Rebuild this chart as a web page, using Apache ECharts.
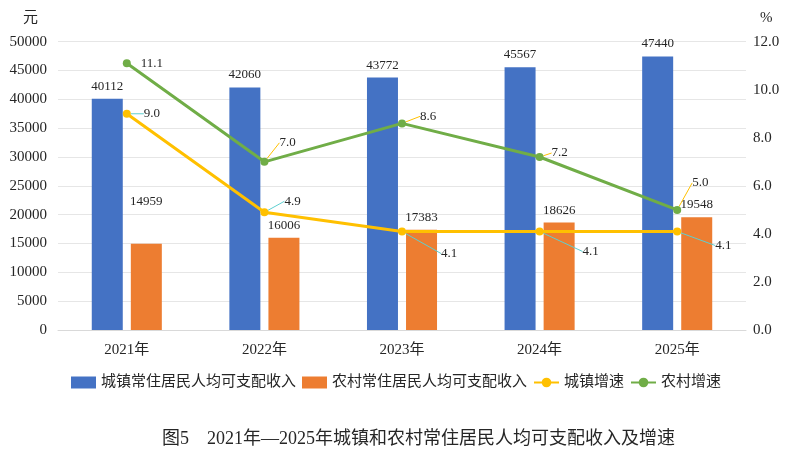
<!DOCTYPE html>
<html>
<head>
<meta charset="utf-8">
<script src="https://cdn.jsdelivr.net/npm/echarts@6/dist/echarts.min.js"></script>
<style>html,body{margin:0;padding:0;background:#fff}#c{width:792px;height:454px}</style>
</head>
<body>
<div id="c"></div>
<script>
var categories = ['2021年', '2022年', '2023年', '2024年', '2025年'];
var urbanIncome = [40112, 42060, 43772, 45567, 47440];
var ruralIncome = [14959, 16006, 17383, 18626, 19548];
var urbanGrowth = [9.0, 4.9, 4.1, 4.1, 4.1];
var ruralGrowth = [11.1, 7.0, 8.6, 7.2, 5.0];
var leftTicks = {min: 0, max: 50000, interval: 5000};
var rightTicks = {min: 0, max: 12, interval: 2};

var FONT = "'Liberation Serif','Times New Roman','Noto Sans CJK SC',serif";
var TXT = '#262626';
var TEAL = '#5ECFD0';
var GOLD = '#FFC000';

// label offsets (styling only)
var ruralOff = [[5,0],[6,-19],[9,-7],[3,-4],[6,-27]];
var ruralLeader = [false,true,true,true,true];
var urbanOff = [[8,0],[11,-11],[30,22],[34,20],[29,14]];

var chart = echarts.init(document.getElementById('c'));
chart.setOption({
  animation: false,
  textStyle: {fontFamily: FONT},
  title: {
    text: '图5    2021年—2025年城镇和农村常住居民人均可支配收入及增速',
    left: 157, top: 425,
    textStyle: {fontFamily: FONT, fontSize: 18, fontWeight: 'normal', color: TXT}
  },
  legend: {
    top: 370, left: 'center',
    itemWidth: 25, itemHeight: 12, itemGap: 6,
    textStyle: {fontFamily: FONT, fontSize: 15, color: TXT},
    data: [
      {name: '城镇常住居民人均可支配收入', icon: 'rect'},
      {name: '农村常住居民人均可支配收入', icon: 'rect'},
      '城镇增速', '农村增速'
    ]
  },
  grid: {left: 58, right: 46, top: 41.7, bottom: 124},
  xAxis: {
    type: 'category', data: categories,
    axisLine: {lineStyle: {color: '#d9d9d9', width: 1}},
    axisTick: {show: false},
    axisLabel: {fontFamily: FONT, fontSize: 15, color: TXT, margin: 13}
  },
  yAxis: [{
    type: 'value', min: leftTicks.min, max: leftTicks.max, interval: leftTicks.interval,
    name: '元', nameLocation: 'end', nameGap: 16,
    nameTextStyle: {fontFamily: FONT, fontSize: 15, color: TXT, align: 'right', padding: [0, 20, 0, 0]},
    axisLine: {show: false}, axisTick: {show: false},
    axisLabel: {fontFamily: FONT, fontSize: 15, color: TXT, margin: 11,
      formatter: function (v) { return String(v); }},
    splitLine: {lineStyle: {color: '#e6e6e6', width: 1}}
  }, {
    type: 'value', min: rightTicks.min, max: rightTicks.max, interval: rightTicks.interval,
    name: '%', nameLocation: 'end', nameGap: 16,
    nameTextStyle: {fontFamily: FONT, fontSize: 15, color: TXT, align: 'left', padding: [0, 0, 0, 14]},
    axisLine: {show: false}, axisTick: {show: false},
    axisLabel: {fontFamily: FONT, fontSize: 15, color: TXT, margin: 7,
      formatter: function (v) { return v.toFixed(1); }},
    splitLine: {show: false}
  }],
  series: [{
    name: '城镇常住居民人均可支配收入', type: 'bar', yAxisIndex: 0,
    data: urbanIncome, barWidth: 31, barGap: '26%',
    itemStyle: {color: '#4472C4'},
    label: {show: true, position: 'top', distance: 6, fontFamily: FONT, fontSize: 13, color: TXT}
  }, {
    name: '农村常住居民人均可支配收入', type: 'bar', yAxisIndex: 0,
    data: ruralIncome.map(function (v, i) {
      return i === 0 ? {value: v, label: {offset: [0, -30]}} : v;
    }),
    barWidth: 31,
    itemStyle: {color: '#ED7D31'},
    label: {show: true, position: 'top', distance: 6, fontFamily: FONT, fontSize: 13, color: TXT}
  }, {
    name: '城镇增速', type: 'line', yAxisIndex: 1,
    data: urbanGrowth.map(function (v) { return {value: v}; }),
    symbol: 'circle', symbolSize: 8,
    lineStyle: {color: GOLD, width: 3}, itemStyle: {color: GOLD},
    label: {show: true, position: 'right', fontFamily: FONT, fontSize: 13, color: TXT,
      formatter: function (p) { return p.value.toFixed(1); }},
    labelLine: {show: true, lineStyle: {color: TEAL, width: 1}},
    labelLayout: function (p) { var o = urbanOff[p.dataIndex]; return {dx: o[0], dy: o[1]}; },
    z: 3
  }, {
    name: '农村增速', type: 'line', yAxisIndex: 1,
    data: ruralGrowth.map(function (v, i) {
      return {value: v, labelLine: {show: ruralLeader[i]}};
    }),
    symbol: 'circle', symbolSize: 8,
    lineStyle: {color: '#70AD47', width: 3}, itemStyle: {color: '#70AD47'},
    label: {show: true, position: 'right', fontFamily: FONT, fontSize: 13, color: TXT,
      formatter: function (p) { return p.value.toFixed(1); }},
    labelLine: {show: true, lineStyle: {color: GOLD, width: 1}},
    labelLayout: function (p) { var o = ruralOff[p.dataIndex]; return {dx: o[0], dy: o[1]}; },
    z: 4
  }]
});
</script>
</body>
</html>
